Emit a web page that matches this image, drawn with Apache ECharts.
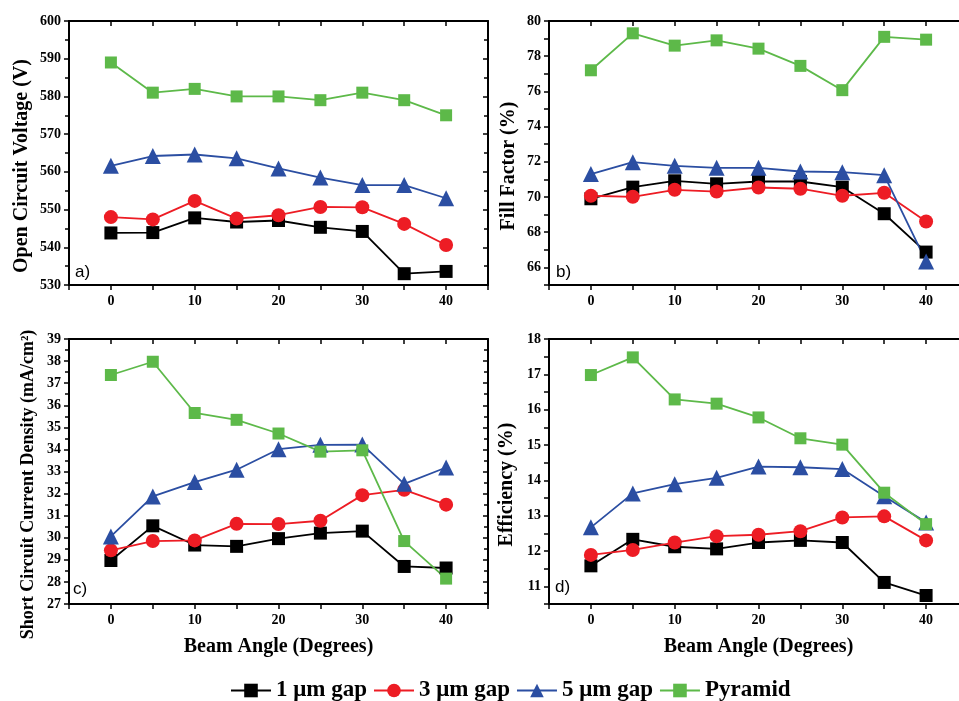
<!DOCTYPE html>
<html>
<head>
<meta charset="utf-8">
<script src="https://cdn.jsdelivr.net/npm/echarts@6/dist/echarts.min.js"></script>
<style>
  html, body { margin: 0; padding: 0; background: #fff; }
  #drew { width: 959px; height: 701px; }
</style>
</head>
<body>
<div id="drew"></div>
<script>
   // beam angle (degrees)
   var angles = [0, 5, 10, 15, 20, 25, 30, 35, 40];
   var seriesNames = ['1 \u03bcm gap', '3 \u03bcm gap', '5 \u03bcm gap', 'Pyramid'];

   // a) open circuit voltage
   var voc1 = [543.8, 543.9, 547.8, 546.7, 547.1, 545.3, 544.2, 533.0, 533.6];
   var voc3 = [548.0, 547.4, 552.3, 547.6, 548.5, 550.7, 550.6, 546.2, 540.6];
   var voc5 = [561.6, 564.2, 564.6, 563.6, 560.9, 558.5, 556.5, 556.5, 553.0];
   var vocP = [589.0, 581.0, 582.0, 580.0, 580.0, 579.0, 581.0, 579.0, 575.0];

   // b) fill factor
   var ff1 = [69.9, 70.56, 70.92, 70.75, 70.88, 70.88, 70.56, 69.05, 66.87];
   var ff3 = [70.07, 70.01, 70.41, 70.31, 70.54, 70.47, 70.07, 70.24, 68.61];
   var ff5 = [71.3, 71.98, 71.77, 71.66, 71.66, 71.45, 71.41, 71.24, 66.34];
   var ffP = [77.2, 79.3, 78.6, 78.9, 78.43, 77.45, 76.07, 79.1, 78.94];

   // c) short circuit current density
   var jsc1 = [28.97, 30.54, 29.67, 29.61, 29.96, 30.21, 30.3, 28.7, 28.63];
   var jsc3 = [29.43, 29.85, 29.88, 30.63, 30.62, 30.77, 31.93, 32.17, 31.5];
   var jsc5 = [30.06, 31.87, 32.52, 33.08, 34.01, 34.21, 34.22, 32.44, 33.18];
   var jscP = [37.37, 37.97, 35.65, 35.34, 34.72, 33.9, 33.96, 29.85, 28.15];

   // d) efficiency
   var eff1 = [11.58, 12.33, 12.12, 12.06, 12.24, 12.3, 12.24, 11.11, 10.74];
   var eff3 = [11.89, 12.03, 12.24, 12.42, 12.46, 12.56, 12.95, 12.98, 12.3];
   var eff5 = [12.67, 13.63, 13.89, 14.07, 14.39, 14.37, 14.32, 13.55, 12.81];
   var effP = [16.98, 17.48, 16.29, 16.17, 15.78, 15.19, 15.01, 13.65, 12.76];

   var colors = ['#000000', '#ed1c24', '#2b4ea2', '#5db949'];
   var symbols = ['rect', 'circle', 'triangle', 'rect'];
   var symbolSizes = [13, 14, 16, 12];
   var serif = '"Liberation Serif", "Times New Roman", serif';

   var panels = [
       { grid: { left: 69, top: 21, width: 419, height: 264 }, data: [voc1, voc3, voc5, vocP],
         y: { min: 530, max: 600, interval: 10, minor: true }, name: 'Open Circuit Voltage (V)', nameGap: 37, nameSize: 20, xname: false },
       { grid: { left: 549, top: 21, width: 419, height: 264 }, data: [ff1, ff3, ff5, ffP],
         y: { min: 65, max: 80, interval: 1, every: 2 }, name: 'Fill Factor (%)', nameGap: 30, nameSize: 20, xname: false },
       { grid: { left: 69, top: 339, width: 419, height: 265 }, data: [jsc1, jsc3, jsc5, jscP],
         y: { min: 27, max: 39, interval: 1, minor: true }, name: 'Short Circuit Current Density (mA/cm\u00b2)', nameGap: 32, nameSize: 18, xname: true },
       { grid: { left: 549, top: 339, width: 419, height: 265 }, data: [eff1, eff3, eff5, effP],
         y: { min: 10.5, max: 18, interval: 0.5, every: 1 }, name: 'Efficiency (%)', nameGap: 32, nameSize: 20, xname: true }
   ];
   var panelLabels = [['a)', 75, 264], ['b)', 556, 264], ['c)', 73, 581], ['d)', 555, 579]];

   var axisLine = { show: true, onZero: false, lineStyle: { color: '#000', width: 2 } };
   var labelStyle = { color: '#000', fontFamily: serif, fontWeight: 'bold', fontSize: 14 };

   var grids = [], xAxes = [], yAxes = [], series = [];
   panels.forEach(function(p, i) {
       // the right-hand plots run past the page edge in the original
       grids.push(Object.assign({ outerBoundsMode: 'none', containLabel: false }, p.grid));
       var xBase = { type: 'value', gridIndex: i, min: -5, max: 45, interval: 5, splitLine: { show: false }, axisLine: axisLine };
       xAxes.push(Object.assign({}, xBase, {
           position: 'bottom',
           axisTick: { show: true, inside: false, length: 5, lineStyle: { color: '#000', width: 1.5 } },
           axisLabel: Object.assign({ margin: 9, formatter: function(v) {
               return (v % 10 === 0 && v >= 0 && v <= 40) ? v : '';
           } }, labelStyle),
           name: p.xname ? 'Beam Angle (Degrees)' : '',
           nameLocation: 'middle', nameGap: 33,
           nameTextStyle: { color: '#000', fontFamily: serif, fontWeight: 'bold', fontSize: 20 }
       }));
       xAxes.push(Object.assign({}, xBase, {
           position: 'top',
           axisTick: { show: true, inside: true, length: 5, lineStyle: { color: '#000', width: 1.5 } },
           axisLabel: { show: false }
       }));
       var every = p.y.every;
       var yBase = { type: 'value', gridIndex: i, min: p.y.min, max: p.y.max, interval: p.y.interval, splitLine: { show: false }, axisLine: axisLine };
       yAxes.push(Object.assign({}, yBase, {
           position: 'left',
           axisTick: { show: true, inside: false, length: 5, lineStyle: { color: '#000', width: 1.5 } },
           minorTick: { show: !!p.y.minor, splitNumber: 2, length: 4, lineStyle: { color: '#000', width: 1.5 } },
           axisLabel: Object.assign({ margin: 8, formatter: function(v) {
               if (every && Math.abs(v / every - Math.round(v / every)) > 1e-6) return '';
               return v;
           } }, labelStyle),
           name: p.name, nameLocation: 'middle', nameGap: p.nameGap,
           // titles sit a little below the plot centre in the original
           nameTextStyle: { color: '#000', fontFamily: serif, fontWeight: 'bold', fontSize: p.nameSize, padding: [0, 26, 0, 0] }
       }));
       yAxes.push(Object.assign({}, yBase, {
           position: 'right',
           axisTick: { show: true, inside: true, length: 5, lineStyle: { color: '#000', width: 1.5 } },
           minorTick: { show: !!p.y.minor, splitNumber: 2, length: 4, lineStyle: { color: '#000', width: 1.5 } },
           axisLabel: { show: false }
       }));
       p.data.forEach(function(vals, k) {
           series.push({
               name: seriesNames[k], type: 'line',
               xAxisIndex: i * 2, yAxisIndex: i * 2,
               data: angles.map(function(a, j) { return [a, vals[j]]; }),
               symbol: symbols[k], symbolSize: symbolSizes[k], showAllSymbol: true,
               itemStyle: { color: colors[k] },
               lineStyle: { color: colors[k], width: 1.8 },
               animation: false
           });
       });
   });

   var myChart = echarts.init(document.getElementById('drew'));
   var option = {
       backgroundColor: '#fff',
       animation: false,
       grid: grids,
       xAxis: xAxes,
       yAxis: yAxes,
       series: series,
       legend: {
           data: seriesNames, left: 225, top: 674,
           itemWidth: 40, itemHeight: 17, itemGap: 6,
           textStyle: { color: '#000', fontFamily: serif, fontWeight: 'bold', fontSize: 23 }
       },
       graphic: panelLabels.map(function(l) {
           return { type: 'text', left: l[1], top: l[2],
               style: { text: l[0], fill: '#000', font: '17px "Liberation Sans", Arial, sans-serif' } };
       })
   };
   myChart.setOption(option);
   window.addEventListener('resize', function() {
       myChart.resize();
   });
</script>
</body>
</html>
